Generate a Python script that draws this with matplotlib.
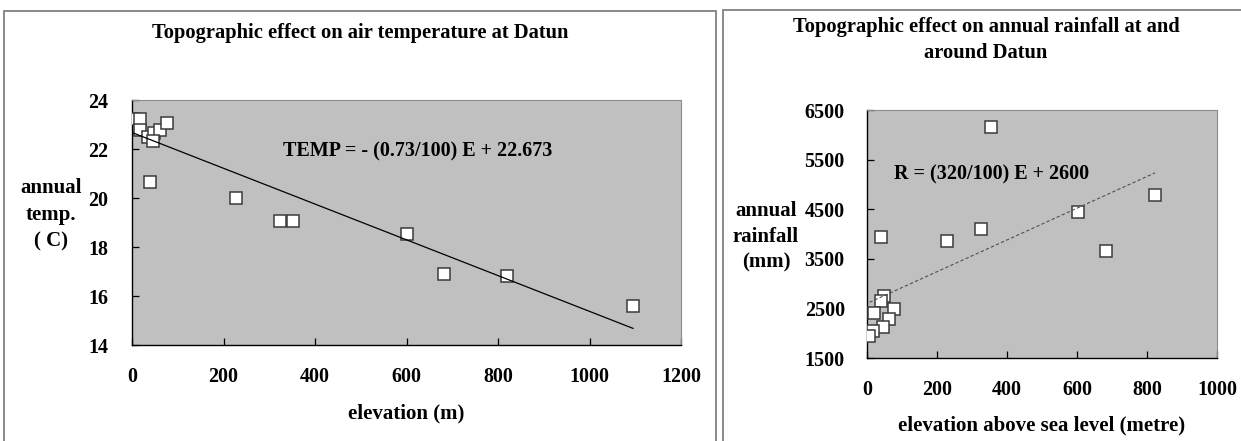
import matplotlib
matplotlib.use("Agg")
import matplotlib.pyplot as plt
import numpy as np
from matplotlib.patches import Rectangle

# ---------------------------------------------------------------------------
# Dados
# ---------------------------------------------------------------------------
temp_elev = [4, 17, 17.5, 36, 47, 61, 76, 46, 39, 227, 323, 353, 602, 682, 820, 1095]
temp_vals = [23.22, 23.22, 22.78, 22.50, 22.64, 22.78, 23.05, 22.34, 20.67,
             19.99, 19.07, 19.07, 18.53, 16.91, 16.83, 15.60]
temp_slope, temp_icpt = -0.73 / 100, 22.673

rain_elev = [354, 39, 228, 326, 604, 823, 682, 48, 40, 20, 78, 64, 47, 18, 7]
rain_vals = [6163, 3946, 3865, 4101, 4444, 4780, 3663, 2760, 2640, 2413,
             2480, 2280, 2130, 2045, 1945]
rain_slope, rain_icpt = 320 / 100, 2600

temp_xticks = [0, 200, 400, 600, 800, 1000, 1200]
temp_yticks = [14, 16, 18, 20, 22, 24]
rain_xticks = [0, 200, 400, 600, 800, 1000]
rain_yticks = [1500, 2500, 3500, 4500, 5500, 6500]

W, H = 1241, 441
FONT = "Liberation Serif"
GRAY = "#c0c0c0"
TICK_FS = 14.4
LABEL_FS = 15
TITLE_FS = 14.8


def px_rect(x0, y0, x1, y1):
    """Converte caixa em pixels (origem no topo) para coordenadas da figura."""
    return [x0 / W, 1 - y1 / H, (x1 - x0) / W, (y1 - y0) / H]


def bold_text(x, y, s, size, **kw):
    return fig.text(x / W, 1 - y / H, s, ha="center", va="center",
                    fontfamily=FONT, fontweight="bold", fontsize=size, **kw)


def style_axes(ax, xticks, yticks, ypad):
    ax.set_facecolor(GRAY)
    for side in ("top", "right"):
        ax.spines[side].set_color("#8c8c8c")
        ax.spines[side].set_linewidth(0.8)
    for side in ("left", "bottom"):
        ax.spines[side].set_color("black")
        ax.spines[side].set_linewidth(1.0)
    ax.set_xticks(xticks)
    ax.set_yticks(yticks)
    ax.tick_params(direction="in", length=5, width=0.9, top=False, right=False)
    ax.tick_params(axis="y", pad=ypad)
    ax.tick_params(axis="x", pad=16)
    for lab in ax.get_xticklabels() + ax.get_yticklabels():
        lab.set_fontfamily(FONT)
        lab.set_fontweight("bold")
        lab.set_fontsize(TICK_FS)


fig = plt.figure(figsize=(W / 100, H / 100), dpi=100)

# molduras dos dois graficos
for x0, y0, x1, y1 in [(4, 11, 716, 460), (723, 10, 1260, 460)]:
    fig.patches.append(Rectangle((x0 / W, 1 - y1 / H), (x1 - x0) / W, (y1 - y0) / H,
                                 transform=fig.transFigure, fill=False,
                                 edgecolor="#808080", linewidth=1.3))

# ---------------------------------------------------------------------------
# Temperatura
# ---------------------------------------------------------------------------
ax1 = fig.add_axes(px_rect(132, 100, 681, 345))
ax1.plot(temp_elev, temp_vals, linestyle="none", marker="s", markersize=8.5,
         markerfacecolor="white", markeredgecolor="#3a3a3a", markeredgewidth=1.1,
         zorder=3)
xs = np.array([0, max(temp_elev)])
ax1.plot(xs, temp_slope * xs + temp_icpt, color="black", linewidth=0.9, zorder=4)
ax1.set_xlim(0, 1200)
ax1.set_ylim(14, 24)
style_axes(ax1, temp_xticks, temp_yticks, ypad=17)
ax1.text(0.521, 0.788, "TEMP = - (0.73/100) E + 22.673", transform=ax1.transAxes,
         ha="center", va="center", fontfamily=FONT, fontweight="bold", fontsize=14.5)

bold_text(360, 33, "Topographic effect on air temperature at Datun", TITLE_FS)
bold_text(51, 215, "annual\ntemp.\n( C)", LABEL_FS,
          multialignment="center", linespacing=1.44)
bold_text(406, 413, "elevation (m)", LABEL_FS)

# ---------------------------------------------------------------------------
# Chuva
# ---------------------------------------------------------------------------
ax2 = fig.add_axes(px_rect(867, 110, 1217, 358))
ax2.plot(rain_elev, rain_vals, linestyle="none", marker="s", markersize=8,
         markerfacecolor="white", markeredgecolor="#3a3a3a", markeredgewidth=1.1,
         zorder=3)
xr = np.array([min(rain_elev), max(rain_elev)])
ax2.plot(xr, rain_slope * xr + rain_icpt, color="#505050", linewidth=0.8,
         linestyle=(0, (3, 2)), zorder=4)
ax2.set_xlim(0, 1000)
ax2.set_ylim(1500, 6500)
style_axes(ax2, rain_xticks, rain_yticks, ypad=16)
ax2.text(0.357, 0.738, "R = (320/100) E + 2600", transform=ax2.transAxes,
         ha="center", va="center", fontfamily=FONT, fontweight="bold", fontsize=14.5)

bold_text(986, 40, "Topographic effect on annual rainfall at and\naround Datun", TITLE_FS,
          multialignment="center", linespacing=1.35)
bold_text(766, 237, "annual\nrainfall\n(mm)", LABEL_FS,
          multialignment="center", linespacing=1.38)
bold_text(1042, 425, "elevation above sea level (metre)", LABEL_FS)

fig.savefig("out.png", dpi=100)
